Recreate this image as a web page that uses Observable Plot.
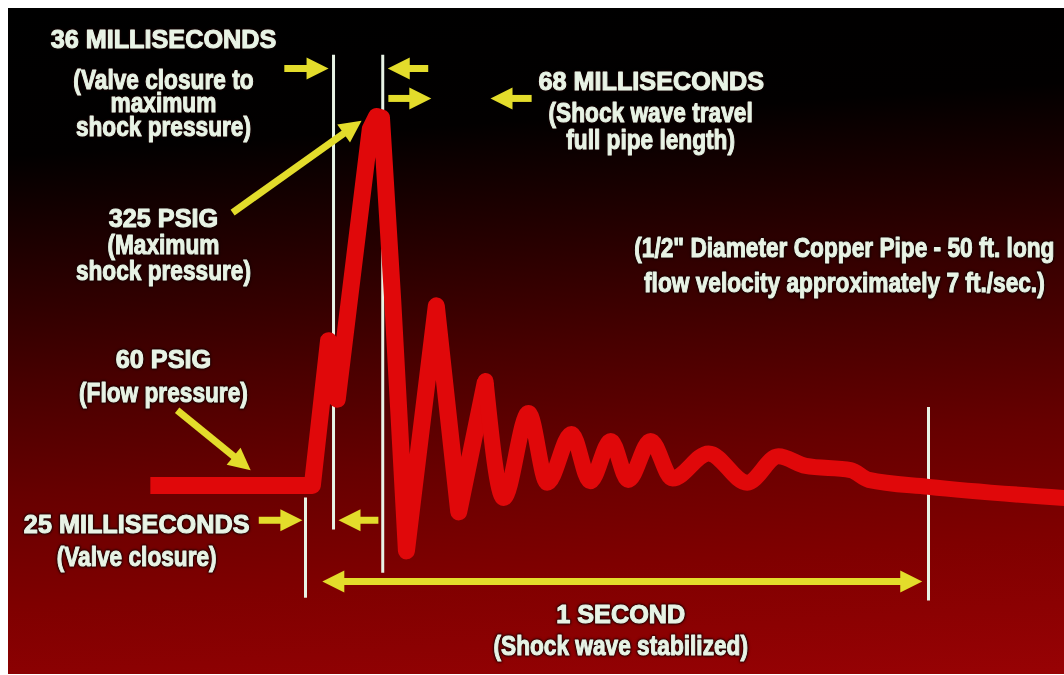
<!DOCTYPE html>
<html><head><meta charset="utf-8">
<script src="https://cdn.jsdelivr.net/npm/d3@7"></script>
<script src="https://cdn.jsdelivr.net/npm/@observablehq/plot@0.6"></script>
<style>
html,body{margin:0;padding:0;background:#fff;}
#chart{padding:8px 0 0 8px;}
#chart svg{display:block;}
</style></head><body><div id="chart"></div>
<script>
// Schematic time units (0 = valve begins closing, 1000 = 1 second), pressure in PSIG
const traceTime = [-249, 11, 37, 51, 104, 114, 122, 140, 162, 210, 246, 289, 318, 358, 388, 427, 457, 490, 518, 554, 589, 647, 709, 759, 803, 875, 904, 1000, 1218];
const tracePsig = [60, 60, 164, 122, 316, 325, 324, 193, 13, 189, 41, 135, 51, 112, 62, 97, 63, 92, 64, 92, 65, 83, 62, 81, 74, 71, 64, 59, 51];

// White event markers
const markerTime   = [0, 45, 124, 210, 289, 1000];
const markerTop    = [51, 369, 369, 190, 136, 116];
const markerBottom = [-21, 28, -3, 190, 136, -23];

// Yellow arrows: tail -> tip
const arrowFromT = [-34, 197, 133, 363, -117, -206, -75, 117, 27];
const arrowFromP = [359.5, 359.5, 338, 338, 256, 114, 35, 35, -9];
const arrowToT   = [37, 132, 202, 297, 90, -88, -5, 53, 990];
const arrowToP   = [359.5, 359.5, 338, 338, 322, 71, 35, 35, -9];
const arrowBoth  = [false, false, false, false, false, false, false, false, true];

// Labels: text, anchor time, baseline pressure, heading?
const labelText = [
  "36 MILLISECONDS", "(Valve closure to", "maximum", "shock pressure)",
  "325 PSIG", "(Maximum", "shock pressure)",
  "60 PSIG", "(Flow pressure)",
  "25 MILLISECONDS", "(Valve closure)",
  "68 MILLISECONDS", "(Shock wave travel", "full pipe length)",
  "(1/2\" Diameter Copper Pipe - 50 ft. long", "flow velocity approximately 7 ft./sec.)",
  "1 SECOND", "(Shock wave stabilized)"
];
const labelT = [-228, -228, -228, -228, -228, -228, -228, -228, -228, -271, -271, 555, 554, 554, 865, 865, 506, 506];
const labelP = [374.5, 345.1, 327.9, 310.7, 246.0, 226.6, 207.9, 144.7, 119.6, 26.2, 1.8, 343.7, 321.4, 302.0, 224.4, 199.3, -39.1, -62.1];
const labelHead = [true, false, false, false, true, false, false, true, false, true, false, true, false, false, false, false, true, false];

const W = 1056, H = 666;
const xDomain = [-476.7, 1218.3], yDomain = [-75.8, 402.6];
const sx = Plot.scale({x: {domain: xDomain, range: [0, W]}});
const sy = Plot.scale({y: {domain: yDomain, range: [H, 0]}});

const trace = traceTime.map((t, i) => ({t, p: tracePsig[i]}));
const SPLIT = 289; // sharp surges before, smoother ringing after
const traceSharp = trace.filter(d => d.t <= SPLIT);
const traceRing = trace.filter(d => d.t >= SPLIT);
const markers = markerTime.map((t, i) => ({t, top: markerTop[i], bottom: markerBottom[i]}));
const labels = labelText.map((text, i) => ({text, t: labelT[i], p: labelP[i], head: labelHead[i]}));

const HEAD = 22, BACK = 14;
function head(x1, y1, x2, y2) {
  const a = Math.atan2(sy.apply(y2) - sy.apply(y1), sx.apply(x2) - sx.apply(x1));
  return {
    t: x2, p: y2, rotate: a * 180 / Math.PI,
    bt: sx.invert(sx.apply(x2) - BACK * Math.cos(a)),
    bp: sy.invert(sy.apply(y2) - BACK * Math.sin(a))
  };
}
const heads = [], shafts = [];
arrowFromT.forEach((_, i) => {
  const h2 = head(arrowFromT[i], arrowFromP[i], arrowToT[i], arrowToP[i]);
  heads.push(h2);
  if (arrowBoth[i]) {
    const h1 = head(arrowToT[i], arrowToP[i], arrowFromT[i], arrowFromP[i]);
    heads.push(h1);
    shafts.push({t1: h1.bt, p1: h1.bp, t2: h2.bt, p2: h2.bp});
  } else {
    shafts.push({t1: arrowFromT[i], p1: arrowFromP[i], t2: h2.bt, p2: h2.bp});
  }
});

const arrowSymbol = {draw(ctx) { ctx.moveTo(0, 0); ctx.lineTo(-HEAD, -11); ctx.lineTo(-HEAD, 11); ctx.closePath(); }};

const YELLOW = "#e3dc2b", WHITE = "#e8f3e5", RED = "#e0080a";
const font = "'Liberation Sans', Arial, Helvetica, sans-serif";
const textOpts = (size) => ({x: "t", y: "p", text: "text", fontSize: size, fontWeight: "bold", fontFamily: font,
  fill: WHITE, stroke: WHITE, strokeWidth: 1.1, textAnchor: "middle", lineAnchor: "bottom"});

const chart = Plot.plot({
  width: W, height: H,
  marginTop: 0, marginRight: 0, marginBottom: 0, marginLeft: 0,
  x: {domain: xDomain, axis: null},
  y: {domain: yDomain, axis: null},
  style: {
    background: "linear-gradient(176deg, #000 0%, #020000 20%, #260000 36%, #480000 51%, #670000 66%, #7f0000 81%, #980204 100%)",
    overflow: "hidden"
  },
  marks: [
    Plot.ruleX(markers, {x: "t", y1: "bottom", y2: "top", stroke: WHITE, strokeWidth: 3}),
    Plot.line(traceSharp, {x: "t", y: "p", stroke: RED, strokeWidth: 17, strokeLinejoin: "round", strokeLinecap: "butt"}),
    Plot.line(traceRing, {x: "t", y: "p", curve: "monotone-x", stroke: RED, strokeWidth: 16, strokeLinejoin: "round", strokeLinecap: "round"}),
    Plot.link(shafts, {x1: "t1", y1: "p1", x2: "t2", y2: "p2", stroke: YELLOW, strokeWidth: 7}),
    Plot.dot(heads, {x: "t", y: "p", rotate: "rotate", symbol: arrowSymbol, fill: YELLOW, stroke: "none"}),
    Plot.text(labels.filter(d => d.head), textOpts(26)),
    Plot.text(labels.filter(d => !d.head), textOpts(28))
  ]
});

// condense the glyphs horizontally (slide typeface is a condensed grotesque)
const squeeze = [0.97, 0.81];
d3.select(chart).selectAll("g[aria-label='text']").each(function(_, gi) {
  const s = squeeze[gi] ?? 1;
  this.style.filter = "drop-shadow(0 0 1px #140000) drop-shadow(0 0 1px #140000)";
  d3.select(this).selectAll("text").each(function() {
    const el = this;
    let tr = el.getAttribute("transform") || "";
    if (el.hasAttribute("x") || el.hasAttribute("y")) {
      const x = +(el.getAttribute("x") || 0), y = +(el.getAttribute("y") || 0);
      el.removeAttribute("x"); el.removeAttribute("y");
      tr = `${tr} translate(${x},${y})`;
    }
    el.setAttribute("transform", `${tr} scale(${s},1)`);
  });
});
document.getElementById("chart").appendChild(chart);
</script></body></html>
